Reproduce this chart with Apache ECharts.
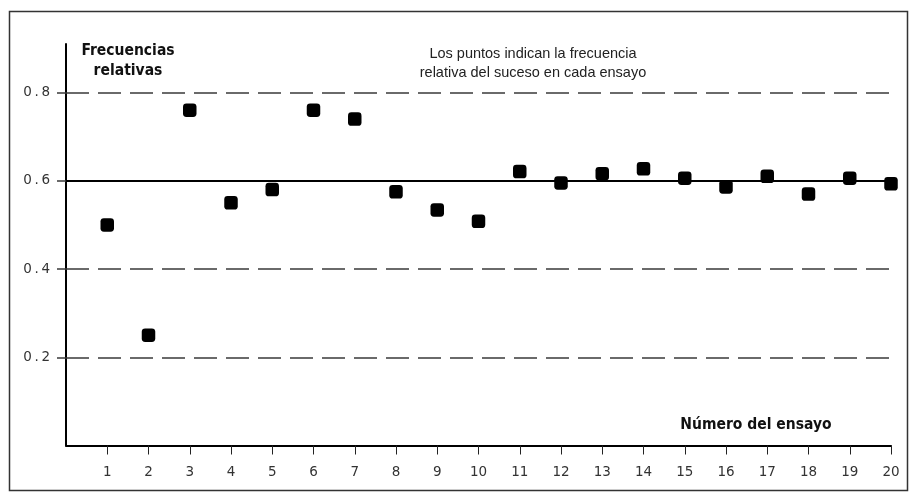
<!DOCTYPE html>
<html>
<head>
<meta charset="utf-8">
<script src="https://cdn.jsdelivr.net/npm/echarts@6/dist/echarts.min.js"></script>
<style>
html,body{margin:0;padding:0;background:#fff;}
#chart{width:915px;height:492px;}
</style>
</head>
<body>
<div id="chart"></div>
<script>
// Data
const trials = [1,2,3,4,5,6,7,8,9,10,11,12,13,14,15,16,17,18,19,20];
const relFreq = [0.50,0.25,0.76,0.55,0.58,0.76,0.74,0.575,0.534,0.508,0.621,0.595,0.616,0.627,0.606,0.586,0.61,0.57,0.606,0.593];
const yTicks = [0.2,0.4,0.6,0.8];
const dashedLevels = [0.2,0.4,0.8];
const refLevel = 0.6;
const yTitle = 'Frecuencias\nrelativas';
const xTitle = 'Número del ensayo';
const note = 'Los puntos indican la frecuencia\nrelativa del suceso en cada ensayo';

const chart = echarts.init(document.getElementById('chart'), null, {renderer:'canvas'});
const labelFont = '"DejaVu Sans", Verdana, sans-serif';
const titleFont = '"DejaVu Sans Condensed", "DejaVu Sans", sans-serif';

const markData = dashedLevels.map(v => ({
  yAxis: v,
  lineStyle: {type: [23, 9], color: '#3a3a3a', width: 1.5}
})).concat([{yAxis: refLevel, lineStyle: {type: 'solid', color: '#000', width: 2.2}}]);

chart.setOption({
  animation: false,
  backgroundColor: '#fff',
  grid: {left: 66, right: 24, top: 44, bottom: 46.5, containLabel: false},
  xAxis: {
    type: 'value', min: 0, max: 20, interval: 1,
    axisLine: {show: true, onZero: false, lineStyle: {color: '#000', width: 2}},
    axisTick: {show: true, customValues: trials, length: 9, lineStyle: {color: '#222', width: 1}},
    axisLabel: {show: true, customValues: trials, margin: 20, color: '#333', fontSize: 13.5, fontFamily: labelFont},
    splitLine: {show: false}
  },
  yAxis: {
    type: 'value', min: 0, max: 0.91,
    axisLine: {show: true, onZero: false, lineStyle: {color: '#000', width: 2}},
    axisTick: {show: true, customValues: yTicks, length: 9, lineStyle: {color: '#3a3a3a', width: 1.5}},
    axisLabel: {show: true, customValues: yTicks, margin: 16, color: '#333', fontSize: 13.5, fontFamily: labelFont,
      formatter: v => v.toFixed(1).split('').join('\u2009')},
    splitLine: {show: false}
  },
  graphic: [
    {type: 'rect', silent: true, z: 0, shape: {x: 9.5, y: 11.5, width: 898, height: 479},
      style: {fill: 'none', stroke: '#333', lineWidth: 1.5}},
    {type: 'text', x: 128, y: 41, z: 10, style: {text: yTitle, align: 'center', verticalAlign: 'top',
      font: 'bold 15.5px ' + titleFont, fill: '#111', lineHeight: 20}},
    {type: 'text', x: 756, y: 425, z: 10, style: {text: xTitle, align: 'center', verticalAlign: 'middle',
      font: 'bold 15.5px ' + titleFont, fill: '#111'}},
    {type: 'text', x: 533, y: 45, z: 10, style: {text: note, align: 'center', verticalAlign: 'top',
      font: '14.5px "Liberation Sans", Arial, sans-serif', fill: '#222', lineHeight: 18.5}}
  ],
  series: [{
    type: 'scatter',
    data: trials.map((t, i) => [t, relFreq[i]]),
    symbol: 'roundRect',
    symbolSize: 13.5,
    itemStyle: {color: '#000', opacity: 1},
    z: 5,
    markLine: {
      silent: true, symbol: 'none', label: {show: false}, animation: false,
      data: markData
    }
  }]
});
</script>
</body>
</html>
